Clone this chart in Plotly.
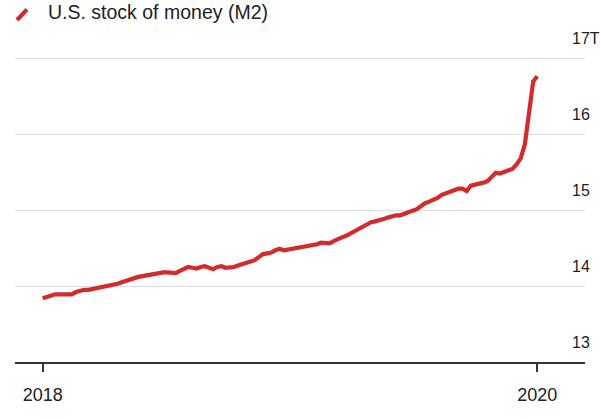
import pandas as pd
import plotly.graph_objects as go

# Weekly U.S. M2 money stock, trillions of dollars
start_date = "2018-01-01"
m2_values = [
    13.84, 13.86, 13.87, 13.89, 13.89, 13.89, 13.89, 13.89, 13.92, 13.94,
    13.95, 13.95, 13.96, 13.98, 13.99, 13.99, 14.00, 14.01, 14.03, 14.05,
    14.07, 14.09, 14.11, 14.12, 14.13, 14.14, 14.16, 14.17, 14.18, 14.18,
    14.18, 14.17, 14.17, 14.20, 14.23, 14.25, 14.24, 14.23, 14.25, 14.26,
    14.24, 14.22, 14.25, 14.26, 14.24, 14.24, 14.25, 14.27, 14.29, 14.31,
    14.32, 14.34, 14.38, 14.42, 14.43, 14.44, 14.47, 14.49, 14.47, 14.48,
    14.48, 14.49, 14.50, 14.51, 14.53, 14.54, 14.55, 14.57, 14.56, 14.56,
    14.59, 14.62, 14.64, 14.66, 14.69, 14.73, 14.76, 14.79, 14.81, 14.84,
    14.85, 14.86, 14.88, 14.90, 14.92, 14.93, 14.93, 14.95, 14.98, 15.00,
    15.01, 15.05, 15.09, 15.11, 15.13, 15.16, 15.20, 15.22, 15.24, 15.26,
    15.28, 15.28, 15.25, 15.32, 15.33, 15.34, 15.36, 15.38, 15.43, 15.49,
    15.48, 15.50, 15.52, 15.54, 15.60, 15.68, 15.86, 16.28, 16.69, 16.76,
]
dates = pd.date_range(start_date, periods=len(m2_values), freq="7D")

y_tickvals = [13, 14, 15, 16, 17]
y_ticktext = ["13", "14", "15", "16", "17T"]
x_ticktext = ["2018", "2020"]
series_name = "U.S. stock of money (M2)"

# Layout geometry (pixels)
W, H = 601, 419
left_px, right_px = 15, 585
top_px, bottom_px = 54, 362
first_px, last_px = 42.7, 537.3

span_days = (dates[-1] - dates[0]).days
px_per_day = (last_px - first_px) / span_days
x0 = dates[0] - pd.Timedelta(days=(first_px - left_px) / px_per_day)
x1 = dates[-1] + pd.Timedelta(days=(right_px - last_px) / px_per_day)

plot_h = bottom_px - top_px
y_top = 13 + plot_h / 76.0

RED = "#d42a2a"
FONT = "Liberation Sans, Arial, sans-serif"

fig = go.Figure()
fig.add_trace(go.Scatter(
    x=dates, y=m2_values, mode="lines", name=series_name,
    line=dict(color=RED, width=4.2, shape="linear"),
    showlegend=False, hoverinfo="x+y",
))

def px_to_paper_x(px):
    return (px - left_px) / (right_px - left_px)

def px_to_paper_y(py):
    return (bottom_px - py) / plot_h

fig.add_shape(type="line", xref="paper", yref="paper",
              x0=px_to_paper_x(17), y0=px_to_paper_y(20),
              x1=px_to_paper_x(27), y1=px_to_paper_y(9.5),
              line=dict(color=RED, width=4))
fig.add_annotation(text=series_name, xref="paper", yref="paper",
                   x=px_to_paper_x(46), y=px_to_paper_y(12.5),
                   xanchor="left", yanchor="middle", showarrow=False,
                   font=dict(family=FONT, size=19.5, color="#222222"))

fig.update_layout(
    width=W, height=H,
    margin=dict(l=left_px, r=W - right_px, t=top_px, b=H - bottom_px, pad=0),
    plot_bgcolor="white", paper_bgcolor="white",
    font=dict(family=FONT, color="#222222"),
)
fig.update_xaxes(
    type="date", range=[x0, x1],
    tickvals=[dates[0], dates[-1]], ticktext=x_ticktext,
    showgrid=False, zeroline=False,
    showline=True, linecolor="#333333", linewidth=1.5,
    ticks="outside", ticklen=8, tickwidth=1.5, tickcolor="#333333",
    tickfont=dict(size=18, color="#222222"),
    ticklabelstandoff=8,
    automargin=False,
)
fig.update_yaxes(
    range=[13, y_top], side="right",
    tickvals=y_tickvals, ticktext=y_ticktext,
    showgrid=True, gridcolor="#dedede", gridwidth=1,
    zeroline=False, showline=False, ticks="",
    tickfont=dict(size=16, color="#222222"),
    ticklabelstandoff=-14, ticklabelshift=-20,
    automargin=False,
)

fig.write_html(
    "out.html",
    config={"displayModeBar": False},
    post_script="document.body.style.margin='0';document.body.style.overflow='hidden';",
)
